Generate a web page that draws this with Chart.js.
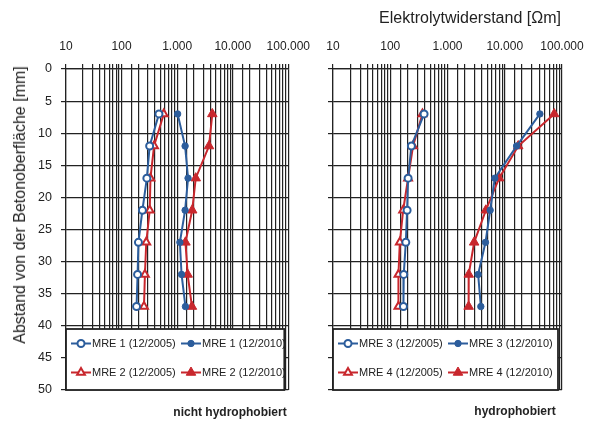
<!DOCTYPE html>
<html>
<head>
<meta charset="utf-8">
<script src="https://cdn.jsdelivr.net/npm/chart.js@4/dist/chart.umd.min.js"></script>
<style>
  body { margin: 0; background: #fff; font-family: "Liberation Sans", Arial, sans-serif; color: #222; }
  #wrap { position: relative; width: 595px; height: 421px; overflow: hidden; }
  canvas { position: absolute; top: 0; }
  #left { left: 0; }
  #right { left: 300px; }
  .txt { position: absolute; white-space: nowrap; }
  #ytitle { left: 20px; top: 205px; font-size: 16px; transform: translate(-50%, -50%) rotate(-90deg); }
  #xtitle { left: 470px; top: 18px; font-size: 16px; transform: translate(-50%, -50%); }
  .sub { font-size: 12px; font-weight: bold; transform: translate(-50%, -50%); }
</style>
</head>
<body>
<div id="wrap">
  <canvas id="left" width="320" height="421"></canvas>
  <canvas id="right" width="295" height="421"></canvas>
  <div class="txt" id="ytitle">Abstand von der Betonoberfläche [mm]</div>
  <div class="txt" id="xtitle">Elektrolytwiderstand [Ωm]</div>
  <div class="txt sub" style="left:230px; top:412px;">nicht hydrophobiert</div>
  <div class="txt sub" style="left:515px; top:411px;">hydrophobiert</div>
</div>
<script>
// depth below concrete surface [mm]
const depths = [7, 12, 17, 22, 27, 32, 37];
const yTicks = [0, 5, 10, 15, 20, 25, 30, 35, 40, 45, 50];
const xLabels = [10, 100, 1000, 10000, 100000];

// electrolytic resistance [Ohm m], not hydrophobised
const mre1_2005 = [470, 320, 285, 237, 201, 194, 186];
const mre1_2010 = [1020, 1390, 1570, 1390, 1120, 1200, 1410];
const mre2_2005 = [574, 384, 331, 321, 278, 263, 253];
const mre2_2010 = [4290, 3740, 2160, 1865, 1410, 1545, 1845];

// hydrophobised
const mre3_2005 = [390, 234, 205, 197, 187, 172, 170];
const mre3_2010 = [41100, 16100, 6710, 5560, 4610, 3430, 3820];
const mre4_2005 = [365, 250, 205, 168, 147, 139, 139];
const mre4_2010 = [73100, 17200, 7980, 4680, 2920, 2350, 2340];

const blue = '#2c5d9c';
const red = '#c8272d';
const gridColor = '#222';
const font = "'Liberation Sans', Arial, sans-serif";

const styles = {
  openCircle:  { pointStyle: 'circle',   radius: 3.5, borderWidth: 2, fill: false },
  dotCircle:   { pointStyle: 'circle',   radius: 3.2, borderWidth: 1, fill: true },
  openTri:     { pointStyle: 'triangle', radius: 4.5, borderWidth: 2, fill: false },
  fullTri:     { pointStyle: 'triangle', radius: 5.5, borderWidth: 1, fill: true }
};

function series(label, values, color, style) {
  const s = styles[style];
  return {
    label: label,
    data: values.map((v, i) => ({ x: v, y: depths[i] })),
    borderColor: color,
    backgroundColor: color,
    borderWidth: 2,
    pointStyle: s.pointStyle,
    pointRadius: s.radius,
    pointBorderWidth: s.borderWidth,
    pointBackgroundColor: s.fill ? color : '#fff',
    pointBorderColor: color,
    showLine: true,
    fill: false,
    tension: 0
  };
}

// legend drawn as a framed box inside the plot area
const boxLegend = {
  id: 'boxLegend',
  afterDatasetsDraw(chart) {
    const a = chart.chartArea;
    const ctx = chart.ctx;
    const sets = chart.data.datasets;
    const bx = a.left, by = a.bottom - 61, bw = a.right - a.left - 4, bh = 61;
    ctx.save();
    ctx.fillStyle = '#fff';
    ctx.fillRect(bx, by, bw, bh);
    ctx.strokeStyle = '#222';
    ctx.lineWidth = 1.8;
    ctx.strokeRect(bx, by, bw, bh);
    ctx.font = '11px ' + font;
    ctx.textBaseline = 'middle';
    ctx.textAlign = 'left';
    sets.forEach((ds, i) => {
      const col = i % 2, row = Math.floor(i / 2);
      const x0 = bx + 5 + col * 110;
      const y0 = by + 14.5 + row * 29;
      ctx.strokeStyle = ds.borderColor;
      ctx.lineWidth = 2;
      ctx.beginPath();
      ctx.moveTo(x0, y0);
      ctx.lineTo(x0 + 20, y0);
      ctx.stroke();
      ctx.fillStyle = ds.pointBackgroundColor;
      ctx.strokeStyle = ds.pointBorderColor;
      ctx.lineWidth = ds.pointBorderWidth;
      Chart.helpers.drawPoint(ctx, {
        pointStyle: ds.pointStyle, radius: ds.pointRadius,
        borderWidth: ds.pointBorderWidth, rotation: 0
      }, x0 + 10, y0);
      ctx.fillStyle = '#222';
      ctx.fillText(ds.label, x0 + 21, y0 + 0.5);
    });
    ctx.restore();
  }
};

function makeChart(id, datasets, yWidth, rightPad, showYLabels) {
  return new Chart(document.getElementById(id), {
    type: 'scatter',
    data: { datasets: datasets },
    options: {
      responsive: false,
      animation: false,
      layout: { padding: { top: 0, left: 0, right: rightPad, bottom: 31 } },
      plugins: { legend: { display: false }, tooltip: { enabled: false } },
      scales: {
        x: {
          type: 'logarithmic',
          position: 'top',
          min: 10,
          max: 100000,
          afterFit: s => { s.height = 69; },
          grid: { color: gridColor, lineWidth: 1.2, tickLength: 5, tickColor: gridColor },
          border: { color: gridColor, width: 1.2 },
          ticks: {
            autoSkip: false,
            maxRotation: 0,
            padding: 10,
            color: '#222',
            font: { family: font, size: 12 },
            callback: v => xLabels.includes(v) ? v.toLocaleString('de-DE') : ''
          }
        },
        y: {
          type: 'linear',
          reverse: true,
          min: 0,
          max: 50,
          afterFit: s => { s.width = yWidth; },
          afterBuildTicks: s => { s.ticks = yTicks.map(v => ({ value: v })); },
          grid: { color: gridColor, lineWidth: 1.2, tickLength: 5, tickColor: gridColor },
          border: { color: gridColor, width: 1.2 },
          ticks: {
            padding: 9,
            color: showYLabels ? '#222' : 'rgba(0,0,0,0)',
            font: { family: font, size: 12.5 }
          }
        }
      }
    },
    plugins: [boxLegend]
  });
}

makeChart('left', [
  series('MRE 1 (12/2005)', mre1_2005, blue, 'openCircle'),
  series('MRE 1 (12/2010)', mre1_2010, blue, 'dotCircle'),
  series('MRE 2 (12/2005)', mre2_2005, red, 'openTri'),
  series('MRE 2 (12/2010)', mre2_2010, red, 'fullTri')
], 66, 25, true);

makeChart('right', [
  series('MRE 3 (12/2005)', mre3_2005, blue, 'openCircle'),
  series('MRE 3 (12/2010)', mre3_2010, blue, 'dotCircle'),
  series('MRE 4 (12/2005)', mre4_2005, red, 'openTri'),
  series('MRE 4 (12/2010)', mre4_2010, red, 'fullTri')
], 33, 33, false);
</script>
</body>
</html>
